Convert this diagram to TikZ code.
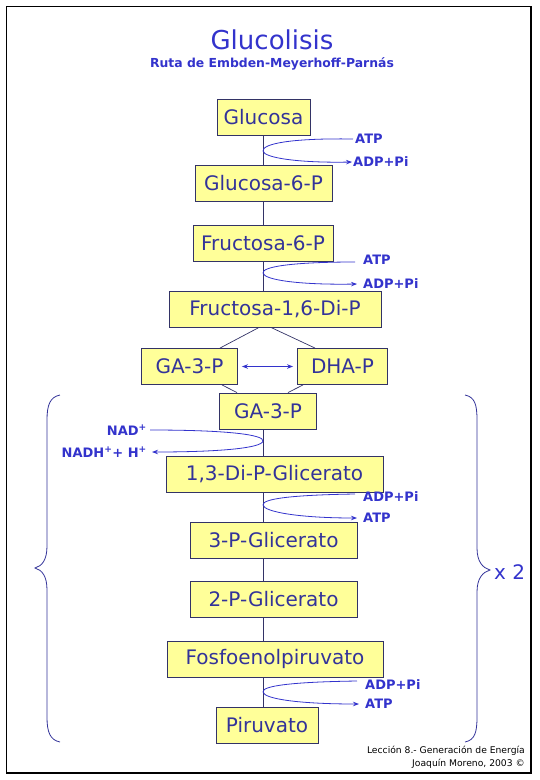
\documentclass[tikz,border=0pt]{standalone}
\usepackage{fontspec}
\setmainfont{DejaVu Sans}
\usetikzlibrary{arrows.meta}
\definecolor{navy}{HTML}{333399}
\definecolor{lblue}{HTML}{3333CC}
\definecolor{boxfill}{HTML}{FFFF99}
\definecolor{edgec}{HTML}{333366}
\begin{document}
\begin{tikzpicture}[x=1pt,y=-1pt,
  met/.style={draw=edgec, line width=0.9pt, fill=boxfill, text=navy,
    font=\fontsize{20}{24}\selectfont, inner sep=0pt, minimum height=36pt},
  link/.style={draw=edgec, line width=0.7pt},
  loopar/.style={draw=lblue, line width=0.8pt, -{Stealth[length=6pt,width=4.5pt]}},
  lbl/.style={text=lblue, font=\fontsize{13}{15}\selectfont\bfseries, inner sep=0pt},
  brace/.style={draw=navy, line width=0.8pt},
  foot/.style={font=\fontsize{9.2}{11}\selectfont, inner sep=0pt, anchor=east},
]
\useasboundingbox (0,0) rectangle (540,780);
\draw[line width=1.3pt] (6.5,6.5) rectangle (531,773);
\coordinate (axis) at (263,0);

% titles
\node[text=lblue, font=\fontsize{26}{30}\selectfont, inner sep=0pt] (title) at (272,40) {Glucolisis};
\node[text=lblue, font=\fontsize{12.4}{14}\selectfont\bfseries, inner sep=0pt] (sub) at (272,64) {Ruta de Embden-Meyerhoff-Parnás};

% metabolites
\node[met, minimum width=93pt]  (glc) at (263.5,117) {Glucosa};
\node[met, minimum width=137pt] (g6p) at (263.5,183.5) {Glucosa-6-P};
\node[met, minimum width=140pt] (f6p) at (263,243) {Fructosa-6-P};
\node[met, minimum width=212pt] (f16) at (275,309) {Fructosa-1,6-Di-P};
\node[met, minimum width=96pt]  (gal) at (189.5,366.5) {GA-3-P};
\node[met, minimum width=90pt]  (dha) at (342.5,366.5) {DHA-P};
\node[met, minimum width=97pt]  (ga3) at (268,411) {GA-3-P};
\node[met, minimum width=217pt] (bpg) at (274.5,474) {1,3-Di-P-Glicerato};
\node[met, minimum width=167pt] (pg3) at (273.5,540) {3-P-Glicerato};
\node[met, minimum width=167pt] (pg2) at (273.5,599) {2-P-Glicerato};
\node[met, minimum width=216pt] (pep) at (275,659) {Fosfoenolpiruvato};
\node[met, minimum width=102pt] (pyr) at (267,725) {Piruvato};

% vertical links
\draw[link] (axis |- glc.south) -- (axis |- g6p.north);
\draw[link] (axis |- g6p.south) -- (axis |- f6p.north);
\draw[link] (axis |- f6p.south) -- (axis |- f16.north);
\draw[link] (axis |- ga3.south) -- (axis |- bpg.north);
\draw[link] (axis |- bpg.south) -- (axis |- pg3.north);
\draw[link] (axis |- pg3.south) -- (axis |- pg2.north);
\draw[link] (axis |- pg2.south) -- (axis |- pep.north);
\draw[link] (axis |- pep.south) -- (axis |- pyr.north);

% split / merge
\draw[link] ([xshift=-16pt]f16.south) -- ([xshift=30.5pt]gal.north);
\draw[link] ([xshift=-4pt]f16.south) -- ([xshift=-27.5pt]dha.north);
\draw[link] ([xshift=32.5pt]gal.south) -- ([xshift=-31pt]ga3.north);
\draw[link] ([xshift=-39.5pt]dha.south) -- ([xshift=20pt]ga3.north);
\draw[draw=lblue, line width=0.8pt, {Stealth[length=6pt,width=4.5pt]}-{Stealth[length=6pt,width=4.5pt]},
  shorten <=4pt, shorten >=4pt] (gal.east) -- (dha.west);

% loop 1
\node[lbl, anchor=west] (atp1) at (355,139) {ATP};
\node[lbl, anchor=west] (adp1) at (353,162) {ADP+Pi};
\draw[loopar] ([xshift=-2pt]atp1.west) .. controls (290,138) and (262,144) .. (263,151)
  .. controls (264,158) and (300,163) .. ([xshift=-1pt]adp1.west);

% loop 2
\node[lbl, anchor=west] (atp2) at (363,260) {ATP};
\node[lbl, anchor=west] (adp2) at (363,284) {ADP+Pi};
\coordinate (s2) at (355,262);
\draw[loopar] (s2) .. controls (290,262) and (262,267) .. (263,273)
  .. controls (264,280) and (300,285) .. ([xshift=-6pt]adp2.west);

% loop 3 (NAD)
\node[lbl, anchor=east] (nad) at (147,430) {NAD\textsuperscript{+}};
\node[lbl, anchor=east] (nadh) at (147,452) {NADH\textsuperscript{+}+ H\textsuperscript{+}};
\draw[loopar] ([xshift=3pt]nad.east) .. controls (230,430) and (264,435) .. (263,441)
  .. controls (262,448) and (220,452) .. ([xshift=5pt]nadh.east);

% loop 4
\node[lbl, anchor=west] (adp4) at (363,497) {ADP+Pi};
\node[lbl, anchor=west] (atp4) at (363,518) {ATP};
\coordinate (s4) at (355,494);
\draw[loopar] (s4) .. controls (290,495) and (262,499) .. (263,505)
  .. controls (264,512) and (300,518) .. ([xshift=-6pt]atp4.west);

% loop 5
\node[lbl, anchor=west] (adp5) at (365,685) {ADP+Pi};
\node[lbl, anchor=west] (atp5) at (365,704) {ATP};
\coordinate (s5) at (357,681);
\draw[loopar] (s5) .. controls (290,682) and (262,686) .. (263,692)
  .. controls (264,699) and (300,704) .. ([xshift=-6pt]atp5.west);

% braces
\draw[brace] (60,395) .. controls (50,397) and (47,405) .. (47,420) -- (47,546)
  .. controls (47,560) and (42,566) .. (35,568) .. controls (42,570) and (47,576) .. (47,590)
  -- (47,717) .. controls (47,732) and (50,740) .. (60,742);
\draw[brace] (465,395) .. controls (475,397) and (477,405) .. (477,420) -- (477,548)
  .. controls (477,562) and (483,568) .. (490,570) .. controls (483,572) and (477,578) .. (477,592)
  -- (477,717) .. controls (477,732) and (475,740) .. (465,742);
\node[text=lblue, font=\fontsize{20}{23}\selectfont, inner sep=0pt, anchor=west] (x2) at (494,572) {x 2};

% footer
\node[foot] (f1) at (525,751) {Lección 8.- Generación de Energía};
\node[foot] (f2) at (525,764) {Joaquín Moreno, 2003 ©};
\end{tikzpicture}
\end{document}
